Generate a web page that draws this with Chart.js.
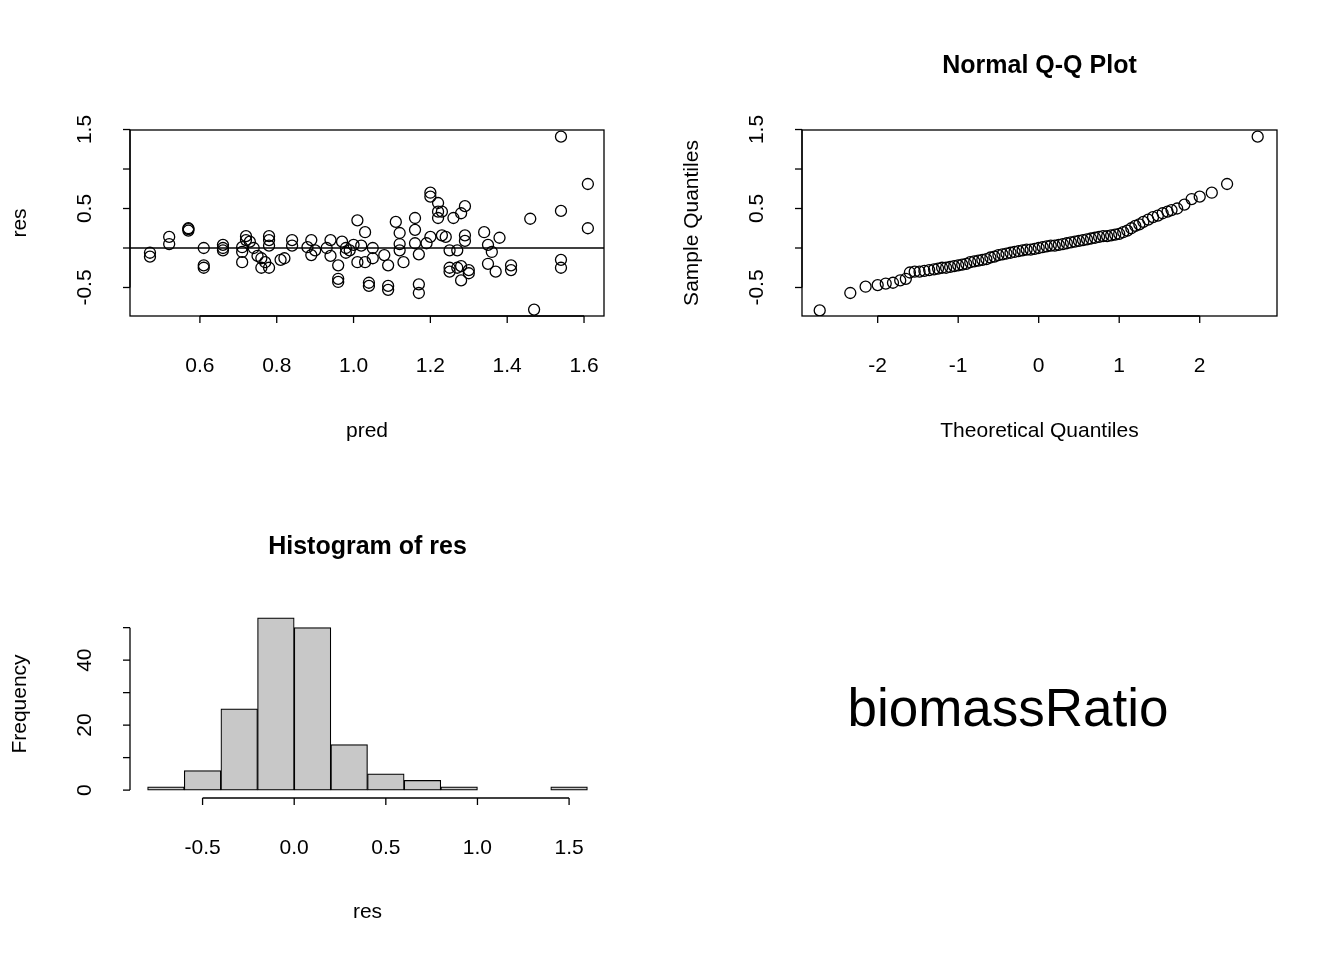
<!DOCTYPE html>
<html><head><meta charset="utf-8">
<script src="https://cdn.jsdelivr.net/npm/chart.js@4"></script>
<style>
body{margin:0;background:#fff;width:1344px;height:960px;position:relative;overflow:hidden;font-family:"Liberation Sans",Arial,sans-serif}
canvas{position:absolute}
#lbl{position:absolute;left:672px;top:480px;width:672px;height:480px;display:flex;align-items:center;justify-content:center;font-size:53px;color:#000}
#lbl span{position:relative;top:-13px;left:0px}
</style></head><body>
<canvas id="c1" width="672" height="480" style="left:0;top:0"></canvas>
<canvas id="c2" width="672" height="480" style="left:672px;top:0"></canvas>
<canvas id="c3" width="672" height="480" style="left:0;top:480px"></canvas>
<div id="lbl"><span>biomassRatio</span></div>
<script>
// residuals vs predicted
const predX=[0.47,0.47,0.52,0.52,0.57,0.57,0.57,0.61,0.61,0.61,0.66,0.66,0.66,0.71,0.71,0.72,0.72,0.71,0.73,0.74,0.75,0.76,0.76,0.77,0.78,0.78,0.78,0.78,0.81,0.82,0.84,0.84,0.88,0.89,0.89,0.90,0.93,0.94,0.94,0.96,0.96,0.96,0.97,0.98,0.98,0.99,1.00,1.01,1.01,1.02,1.03,1.03,1.04,1.04,1.05,1.05,1.08,1.09,1.09,1.09,1.11,1.12,1.12,1.12,1.13,1.16,1.16,1.16,1.17,1.17,1.17,1.19,1.20,1.20,1.22,1.20,1.22,1.22,1.23,1.23,1.24,1.25,1.26,1.25,1.25,1.27,1.27,1.28,1.28,1.28,1.29,1.29,1.29,1.30,1.30,1.34,1.35,1.35,1.36,1.37,1.38,1.41,1.41,1.46,1.47,1.54,1.54,1.54,1.54,1.61,1.61];
const resY=[-0.06,-0.11,0.14,0.05,0.25,0.22,0.24,0.00,-0.22,-0.25,0.04,0.00,-0.03,0.01,-0.05,0.15,0.10,-0.18,0.08,0.00,-0.10,-0.13,-0.25,-0.18,-0.25,0.15,0.10,0.03,-0.15,-0.13,0.10,0.03,0.01,0.10,-0.09,-0.03,0.00,0.10,-0.10,-0.22,-0.43,-0.39,0.08,0.00,-0.06,-0.03,0.04,0.35,-0.18,0.03,0.20,-0.18,-0.48,-0.44,0.00,-0.13,-0.09,-0.22,-0.48,-0.53,0.33,0.19,-0.03,0.05,-0.18,0.38,0.23,0.06,-0.08,-0.46,-0.57,0.06,0.65,0.70,0.46,0.14,0.57,0.38,0.46,0.16,0.14,-0.03,0.38,-0.25,-0.30,-0.03,-0.25,-0.23,-0.41,0.44,0.53,0.16,0.09,-0.32,-0.28,0.20,0.04,-0.20,-0.05,-0.30,0.13,-0.22,-0.28,0.37,-0.78,1.41,0.47,-0.15,-0.25,0.81,0.25];
// Q-Q
const qqX=[-2.72,-2.34,-2.15,-2.0,-1.9,-1.81,-1.72,-1.65,-1.6,-1.54,-1.48,-1.42,-1.36,-1.3,-1.25,-1.2,-1.15,-1.1,-1.05,-1.0,
 -0.95,-0.9,-0.85,-0.8,-0.75,-0.7,-0.65,-0.6,-0.55,-0.5,-0.45,-0.4,-0.35,-0.3,-0.25,-0.2,-0.15,-0.1,-0.05,0,
 0.05,0.1,0.15,0.2,0.25,0.3,0.35,0.4,0.45,0.5,0.55,0.6,0.65,0.7,0.75,0.8,0.85,0.9,0.95,1.0,
 1.05,1.1,1.15,1.2,1.25,1.3,1.36,1.42,1.48,1.54,1.6,1.65,1.72,1.81,1.9,2.0,2.15,2.34,2.72];
const qqY=[-0.79,-0.57,-0.49,-0.47,-0.45,-0.44,-0.41,-0.39,-0.31,-0.30,-0.30,-0.29,-0.28,-0.27,-0.26,-0.25,-0.25,-0.24,-0.23,-0.22,
 -0.21,-0.20,-0.18,-0.17,-0.16,-0.15,-0.14,-0.12,-0.11,-0.09,-0.08,-0.07,-0.06,-0.05,-0.04,-0.03,-0.02,-0.02,-0.01,0.00,
 0.01,0.02,0.03,0.03,0.04,0.05,0.06,0.07,0.08,0.09,0.10,0.11,0.12,0.13,0.14,0.15,0.15,0.16,0.17,0.18,
 0.20,0.22,0.25,0.28,0.30,0.33,0.36,0.39,0.41,0.44,0.46,0.48,0.50,0.55,0.62,0.65,0.70,0.81,1.41];
// histogram
const binCenters=[-0.7,-0.5,-0.3,-0.1,0.1,0.3,0.5,0.7,0.9,1.1,1.3,1.5];
const binCounts=[1,6,25,53,50,14,5,3,1,0,0,1];

const FONT='"Liberation Sans", Arial, sans-serif';
const rPlot={id:'rPlot',afterDraw(chart,args,o){
  const ctx=chart.ctx,a=chart.chartArea,xs=chart.scales.x,ys=chart.scales.y;
  ctx.save();ctx.strokeStyle='#000';ctx.fillStyle='#000';ctx.lineWidth=1.3;
  if(o.box){ctx.strokeRect(a.left,a.top,a.right-a.left,a.bottom-a.top);}
  if(o.hline!==undefined){const y=ys.getPixelForValue(o.hline);ctx.beginPath();ctx.moveTo(a.left,y);ctx.lineTo(a.right,y);ctx.stroke();}
  ctx.font='21px '+FONT;
  const xb=o.box?a.bottom:a.bottom+1;
  const x0=xs.getPixelForValue(o.xt[0]),x1=xs.getPixelForValue(o.xt[o.xt.length-1]);
  ctx.beginPath();ctx.moveTo(x0,xb);ctx.lineTo(x1,xb);ctx.stroke();
  ctx.textAlign='center';ctx.textBaseline='middle';
  o.xt.forEach((v,i)=>{const p=xs.getPixelForValue(v);ctx.beginPath();ctx.moveTo(p,xb);ctx.lineTo(p,xb+7);ctx.stroke();
    if(o.xl[i]!=='')ctx.fillText(o.xl[i],p,xb+50);});
  const y0=ys.getPixelForValue(o.yt[0]),y1=ys.getPixelForValue(o.yt[o.yt.length-1]);
  ctx.beginPath();ctx.moveTo(a.left,y0);ctx.lineTo(a.left,y1);ctx.stroke();
  o.yt.forEach((v,i)=>{const p=ys.getPixelForValue(v);ctx.beginPath();ctx.moveTo(a.left,p);ctx.lineTo(a.left-7,p);ctx.stroke();
    if(o.yl[i]!==''){ctx.save();ctx.translate(a.left-45,p);ctx.rotate(-Math.PI/2);ctx.fillText(o.yl[i],0,0);ctx.restore();}});
  const cx=(a.left+a.right)/2;
  ctx.fillText(o.xTitle,cx,a.bottom+115);
  ctx.save();ctx.translate(20,(a.top+a.bottom)/2);ctx.rotate(-Math.PI/2);ctx.fillText(o.yTitle,0,0);ctx.restore();
  if(o.title){ctx.font='bold 25px '+FONT;ctx.fillText(o.title,cx,a.top-64);}
  ctx.restore();
}};
Chart.register(rPlot);
const base=(pad)=>({responsive:false,animation:false,devicePixelRatio:1,layout:{padding:pad},
  plugins:{legend:{display:false},tooltip:{enabled:false}}});
const pt={pointRadius:5.5,pointBorderColor:'#000',pointBackgroundColor:'rgba(0,0,0,0)',pointBorderWidth:1.3,showLine:false};

let o1=base({left:130,right:68,top:130,bottom:164});
o1.scales={x:{type:'linear',display:false,min:0.418,max:1.652},y:{type:'linear',display:false,min:-0.861,max:1.494}};
o1.plugins.rPlot={box:true,hline:0,xt:[0.6,0.8,1.0,1.2,1.4,1.6],xl:['0.6','0.8','1.0','1.2','1.4','1.6'],
  yt:[-0.5,0,0.5,1,1.5],yl:['-0.5','','0.5','','1.5'],xTitle:'pred',yTitle:'res'};
new Chart(document.getElementById('c1'),{type:'scatter',data:{datasets:[Object.assign({data:predX.map((x,i)=>({x,y:resY[i]}))},pt)]},options:o1});

let o2=base({left:130,right:67,top:130,bottom:164});
o2.scales={x:{type:'linear',display:false,min:-2.94,max:2.96},y:{type:'linear',display:false,min:-0.861,max:1.494}};
o2.plugins.rPlot={box:true,xt:[-2,-1,0,1,2],xl:['-2','-1','0','1','2'],
  yt:[-0.5,0,0.5,1,1.5],yl:['-0.5','','0.5','','1.5'],xTitle:'Theoretical Quantiles',yTitle:'',title:'Normal Q-Q Plot'};
new Chart(document.getElementById('c2'),{type:'scatter',data:{datasets:[Object.assign({data:qqX.map((x,i)=>({x,y:qqY[i]}))},pt)]},
  options:o2,plugins:[{id:'ylab',afterDraw(c){const ctx=c.ctx;ctx.save();ctx.font='21px '+FONT;ctx.textAlign='center';ctx.textBaseline='middle';
    ctx.translate(20,223);ctx.rotate(-Math.PI/2);ctx.fillText('Sample Quantiles',0,0);ctx.restore();}}]});

let o3=base({left:130,right:67,top:131,bottom:163});
o3.scales={x:{type:'linear',display:false,min:-0.896,max:1.696,offset:false},y:{type:'linear',display:false,min:-2.12,max:55.12}};
o3.plugins.rPlot={box:false,xt:[-0.5,0,0.5,1,1.5],xl:['-0.5','0.0','0.5','1.0','1.5'],
  yt:[0,10,20,30,40,50],yl:['0','','20','','40',''],xTitle:'res',yTitle:'Frequency',title:'Histogram of res'};
new Chart(document.getElementById('c3'),{type:'bar',data:{datasets:[{data:binCenters.map((x,i)=>({x,y:binCounts[i]})),
  backgroundColor:'#c8c8c8',borderColor:'#000',borderWidth:1.2,barPercentage:1,categoryPercentage:1,borderSkipped:false}]},options:o3});
</script></body></html>
